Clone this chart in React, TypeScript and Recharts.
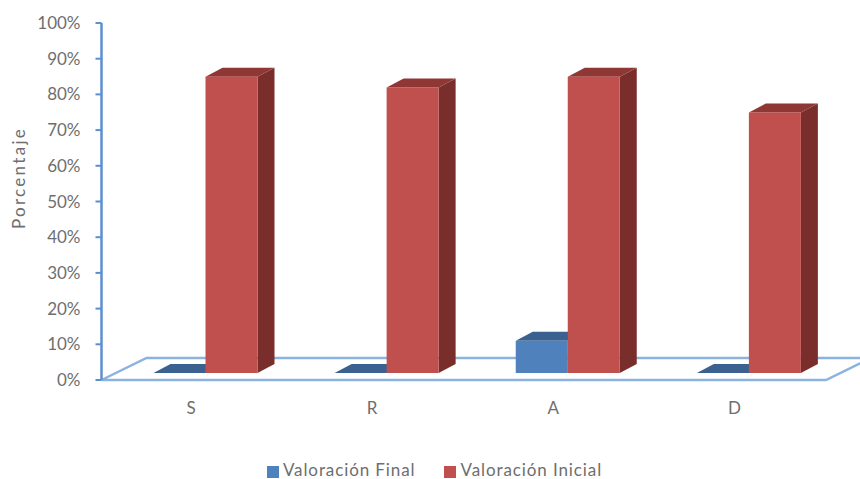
import { Bar, BarChart, Legend, XAxis, YAxis, usePlotArea } from 'recharts';

const categories = ['S', 'R', 'A', 'D'];
const finalValues = [0, 0, 9, 0];
const initialValues = [83, 80, 83, 73];
const yTicks = [0, 10, 20, 30, 40, 50, 60, 70, 80, 90, 100];

const chartData = categories.map((name, i) => ({
  name,
  final: finalValues[i],
  initial: initialValues[i],
}));

const FONT = 'Lato, sans-serif';
const TEXT = '#6e6e6e';
const AXIS_BLUE = '#5c8fcf';
const FLOOR_BLUE = '#8cb2e0';

// bars stand a little way into the floor, and have this much depth themselves
const BAR_SHIFT = { x: 13, y: -7 };
const BAR_DEPTH = { x: 17, y: 9 };
const FLOOR_DEPTH = { x: 45, y: 22 };

interface FaceColors {
  front: string;
  top: string;
  side: string;
}

const BLUE_FACES: FaceColors = { front: '#4f81bd', top: '#3a618f', side: '#2f4f75' };
const RED_FACES: FaceColors = { front: '#c0504d', top: '#8f3735', side: '#792e2c' };

function pts(list: number[][]) {
  return list.map((p) => p.join(',')).join(' ');
}

/** Oblique box drawn from the rectangle the bar scale hands over. */
function boxShape(colors: FaceColors) {
  return function BoxBar(props: any) {
    const x = props.x + BAR_SHIFT.x;
    const y = props.y + BAR_SHIFT.y;
    const { width, height } = props;
    const dx = BAR_DEPTH.x;
    const dy = BAR_DEPTH.y;
    return (
      <g>
        <polygon
          points={pts([[x + width, y], [x + width + dx, y - dy], [x + width + dx, y + height - dy], [x + width, y + height]])}
          fill={colors.side}
        />
        <polygon
          points={pts([[x, y], [x + dx, y - dy], [x + width + dx, y - dy], [x + width, y]])}
          fill={colors.top}
        />
        {height > 0 && <rect x={x} y={y} width={width} height={height} fill={colors.front} />}
      </g>
    );
  };
}

function Floor() {
  const plot = usePlotArea();
  if (!plot) return null;
  const left = plot.x;
  const right = plot.x + plot.width;
  const bottom = plot.y + plot.height;
  return (
    <polygon
      points={pts([
        [left, bottom],
        [left + FLOOR_DEPTH.x, bottom - FLOOR_DEPTH.y],
        [right + FLOOR_DEPTH.x, bottom - FLOOR_DEPTH.y],
        [right, bottom],
      ])}
      fill="none"
      stroke={FLOOR_BLUE}
      strokeWidth={2.5}
    />
  );
}

function AxisTitle() {
  return (
    <text
      transform="rotate(-90 19 178)"
      x={19}
      y={178}
      dy={6}
      textAnchor="middle"
      fill={TEXT}
      fontFamily={FONT}
      fontSize={17}
      letterSpacing={2.3}
    >
      Porcentaje
    </text>
  );
}

function legendText(value: string) {
  return (
    <span style={{ color: TEXT, fontFamily: FONT, fontSize: 17, letterSpacing: 0.9, marginRight: 19 }}>{value}</span>
  );
}

export default function App() {
  return (
    <div style={{ position: 'absolute', left: 0, top: 0 }}>
      <BarChart
        width={860}
        height={479}
        data={chartData}
        margin={{ top: 23, right: 34, bottom: 0, left: 0 }}
        barCategoryGap={39}
        barGap={0}
      >
        <Floor />
        <XAxis
          dataKey="name"
          axisLine={false}
          tickLine={false}
          height={77}
          tickMargin={16}
          tick={{ fill: TEXT, fontFamily: FONT, fontSize: 17, dx: -1 }}
        />
        <YAxis
          domain={[0, 100]}
          ticks={yTicks}
          interval={0}
          width={101.5}
          tickFormatter={(v: number) => `${v}%`}
          axisLine={{ stroke: AXIS_BLUE, strokeWidth: 2.5 }}
          tickLine={{ stroke: AXIS_BLUE, strokeWidth: 2 }}
          tickSize={6}
          tickMargin={15}
          tick={{ fill: TEXT, fontFamily: FONT, fontSize: 17 }}
        />
        <AxisTitle />
        <Legend
          verticalAlign="bottom"
          height={22}
          iconType="square"
          iconSize={12}
          formatter={legendText}
          wrapperStyle={{ top: 459, left: 36 }}
        />
        <Bar dataKey="final" name="Valoración Final" fill={BLUE_FACES.front} isAnimationActive={false} shape={boxShape(BLUE_FACES)} />
        <Bar dataKey="initial" name="Valoración Inicial" fill={RED_FACES.front} isAnimationActive={false} shape={boxShape(RED_FACES)} />
      </BarChart>
    </div>
  );
}
